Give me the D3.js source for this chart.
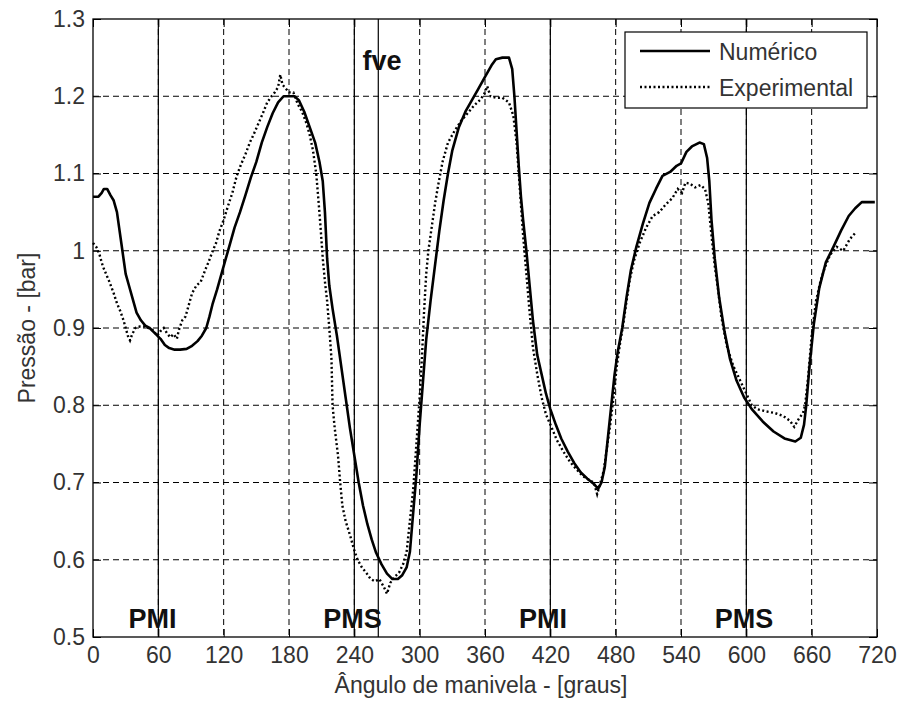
<!DOCTYPE html>
<html>
<head>
<meta charset="utf-8">
<script src="https://cdn.jsdelivr.net/npm/d3@7"></script>
<style>
  body { margin: 0; background: #fff; }
  svg { display: block; font-family: Arial, "Liberation Sans", sans-serif; }
</style>
</head>
<body>
<svg id="chart" width="900" height="704"></svg>
<script>
// crank angle [deg] / pressure [bar]
const numAngle = [0, 5, 8, 10, 13, 16, 19, 22, 24, 26, 28, 30, 33, 36, 40, 44, 48, 52, 57, 62, 66, 70, 75, 80, 86, 91, 96, 100, 104, 107, 110, 114, 118, 122, 126, 130, 135, 140, 145, 150, 155, 160, 165, 170, 175, 180, 185, 189, 194, 199, 204, 208, 211, 213, 215, 217, 220, 224, 228, 232, 236, 240, 244, 248, 252, 256, 260, 265, 270, 275, 280, 284, 288, 291, 294, 297, 300, 303, 306, 310, 314, 318, 322, 326, 330, 336, 342, 348, 354, 360, 366, 370, 376, 382, 385, 387, 389, 391, 393, 395, 398, 401, 404, 408, 412, 416, 420, 425, 430, 436, 442, 448, 454, 460, 464, 467, 470, 473, 476, 479, 482, 486, 490, 494, 499, 505, 511, 517, 523, 530, 536, 540, 545, 550, 557, 561, 564, 566, 568, 571, 575, 580, 585, 591, 598, 605, 615, 625, 635, 645, 650, 653, 655, 658, 662, 667, 673, 680, 687, 694, 700, 706, 712, 718];
const numPressure = [1.07, 1.07, 1.075, 1.08, 1.08, 1.072, 1.065, 1.05, 1.03, 1.01, 0.99, 0.97, 0.955, 0.94, 0.92, 0.91, 0.903, 0.9, 0.893, 0.886, 0.878, 0.874, 0.872, 0.872, 0.873, 0.877, 0.883, 0.89, 0.9, 0.915, 0.932, 0.95, 0.97, 0.99, 1.01, 1.03, 1.05, 1.072, 1.095, 1.115, 1.14, 1.16, 1.178, 1.192, 1.2, 1.2, 1.2, 1.195, 1.18, 1.16, 1.14, 1.115, 1.09, 1.05, 0.99, 0.955, 0.925, 0.89, 0.85, 0.81, 0.77, 0.735, 0.7, 0.67, 0.646, 0.626, 0.609, 0.594, 0.582, 0.575, 0.575, 0.58, 0.59, 0.61, 0.66, 0.71, 0.775, 0.83, 0.885, 0.935, 0.98, 1.025, 1.065, 1.1, 1.13, 1.16, 1.18, 1.195, 1.21, 1.225, 1.24, 1.248, 1.25, 1.25, 1.235, 1.2, 1.155, 1.11, 1.07, 1.04, 1.0, 0.955, 0.91, 0.865, 0.84, 0.815, 0.795, 0.775, 0.757, 0.74, 0.725, 0.713, 0.705, 0.698, 0.692, 0.7, 0.72, 0.76, 0.8, 0.84, 0.87, 0.9, 0.94, 0.975, 1.005, 1.035, 1.062, 1.08, 1.097, 1.102, 1.11, 1.113, 1.128, 1.135, 1.14, 1.138, 1.12, 1.09, 1.04, 0.99, 0.94, 0.895, 0.86, 0.832, 0.81, 0.795, 0.779, 0.766, 0.757, 0.753, 0.758, 0.775, 0.8, 0.85, 0.905, 0.952, 0.985, 1.005, 1.026, 1.045, 1.055, 1.063, 1.063, 1.063];

const expAngle = [0, 3, 6, 9, 12, 15, 19, 22, 25, 28, 30, 32, 34, 36, 39, 43, 47, 51, 55, 59, 62, 65, 68, 71, 74, 77, 79, 82, 85, 88, 91, 95, 99, 103, 106, 110, 113, 116, 120, 124, 128, 132, 136, 140, 144, 148, 152, 156, 160, 164, 167, 170, 172, 174, 177, 180, 184, 188, 192, 196, 199, 202, 205, 207, 209, 211, 213, 215, 217, 219, 220, 222, 225, 227, 229, 232, 236, 240, 243, 247, 251, 255, 259, 263, 267, 270, 273, 277, 281, 285, 288, 291, 294, 296, 298, 300, 302, 304, 306, 308, 311, 314, 317, 321, 326, 332, 338, 344, 350, 356, 360, 362, 365, 370, 376, 382, 386, 389, 391, 393, 395, 398, 401, 404, 408, 412, 416, 420, 426, 432, 438, 444, 450, 456, 460, 463, 466, 469, 472, 475, 478, 481, 484, 487, 490, 493, 497, 502, 508, 514, 520, 526, 532, 537, 541, 544, 548, 553, 558, 562, 565, 568, 571, 574, 577, 582, 588, 594, 600, 605, 610, 618, 626, 634, 640, 644, 648, 652, 654, 657, 660, 664, 668, 672, 677, 683, 689, 695, 700];
const expPressure = [1.01, 1.005, 0.995, 0.98, 0.97, 0.96, 0.945, 0.932, 0.922, 0.91, 0.9, 0.89, 0.884, 0.892, 0.9, 0.902, 0.902, 0.9, 0.897, 0.89, 0.896, 0.9, 0.893, 0.888, 0.892, 0.886, 0.898, 0.91, 0.915, 0.93, 0.945, 0.955, 0.96, 0.975, 0.985, 1.0, 1.01, 1.025, 1.04, 1.058, 1.075, 1.097, 1.112, 1.125, 1.14, 1.152, 1.165, 1.178, 1.192, 1.2, 1.205, 1.212, 1.228, 1.215, 1.21, 1.205, 1.205, 1.19, 1.18, 1.165, 1.15, 1.13, 1.1, 1.066, 1.03, 0.99, 0.96, 0.935, 0.9, 0.86, 0.8, 0.77, 0.735, 0.7, 0.67, 0.65, 0.632, 0.612, 0.6, 0.59, 0.583, 0.575, 0.572, 0.575, 0.565, 0.556, 0.57, 0.578, 0.583, 0.595, 0.61, 0.65, 0.69, 0.73, 0.77, 0.81, 0.86, 0.92, 0.97, 1.0, 1.03, 1.06, 1.085, 1.115, 1.14, 1.155, 1.168, 1.178, 1.188, 1.196, 1.205, 1.213, 1.2, 1.198, 1.198, 1.192, 1.175, 1.14, 1.1, 1.06, 1.02, 0.97, 0.92, 0.875, 0.84, 0.81, 0.788, 0.775, 0.755, 0.74, 0.727, 0.717, 0.708, 0.703, 0.7, 0.685, 0.7, 0.715, 0.745, 0.775, 0.81, 0.85, 0.88, 0.905, 0.935, 0.963, 0.988, 1.01, 1.03, 1.045, 1.05, 1.06, 1.068, 1.08, 1.075, 1.088, 1.087, 1.082, 1.085, 1.08, 1.062, 1.02, 0.98, 0.95, 0.915, 0.877, 0.851, 0.833, 0.815, 0.8, 0.795, 0.792, 0.79, 0.786, 0.78, 0.772, 0.782, 0.79, 0.8, 0.84, 0.89, 0.935, 0.96, 0.978, 0.995, 1.005, 1.0, 1.015, 1.023];

const xTicks = [0, 60, 120, 180, 240, 300, 360, 420, 480, 540, 600, 660, 720];
const yTicks = [0.5, 0.6, 0.7, 0.8, 0.9, 1, 1.1, 1.2, 1.3];
const seriesNames = ['Numérico', 'Experimental'];
const eventAngles = [60, 240, 262, 420, 600];
const eventLabels = ['PMI', 'PMS', 'PMI', 'PMS'];
const eventLabelAngles = [54.6, 238.3, 413.3, 597.9];
const fveLabel = 'fve';
const fveLabelAngle = 265.4;

const width = 900, height = 704;
const margin = { top: 19, right: 23, bottom: 67, left: 93 };
const innerW = width - margin.left - margin.right;
const innerH = height - margin.top - margin.bottom;

const svg = d3.select('#chart');
const g = svg.append('g').attr('transform', `translate(${margin.left},${margin.top})`);

const xScale = d3.scaleLinear().domain([0, 720]).range([0, innerW]);
const yScale = d3.scaleLinear().domain([0.5, 1.3]).range([innerH, 0]);

// dashed grid
g.append('g')
  .selectAll('line')
  .data(xTicks.slice(1, -1))
  .enter()
  .append('line')
  .attr('x1', d => xScale(d)).attr('x2', d => xScale(d))
  .attr('y1', 0).attr('y2', innerH)
  .attr('stroke', '#000').attr('stroke-width', 1).attr('stroke-dasharray', '6,4');
g.append('g')
  .selectAll('line')
  .data(yTicks.slice(1, -1))
  .enter()
  .append('line')
  .attr('x1', 0).attr('x2', innerW)
  .attr('y1', d => yScale(d)).attr('y2', d => yScale(d))
  .attr('stroke', '#000').attr('stroke-width', 1).attr('stroke-dasharray', '6,4');

// PMI / PMS / fve markers
g.append('g')
  .selectAll('line')
  .data(eventAngles)
  .enter()
  .append('line')
  .attr('x1', d => xScale(d)).attr('x2', d => xScale(d))
  .attr('y1', 0).attr('y2', innerH)
  .attr('stroke', '#000').attr('stroke-width', 1.2);

// axes with inward ticks
const fmt = d => String(d);
const styleAxis = sel => {
  sel.select('.domain').remove();
  sel.selectAll('.tick line').attr('stroke', '#000');
  sel.selectAll('.tick text').attr('fill', '#333').style('font-size', '23px')
    .style('font-family', 'Arial, "Liberation Sans", sans-serif');
};
g.append('g').attr('transform', `translate(0,${innerH})`)
  .call(d3.axisBottom(xScale).tickValues(xTicks).tickFormat(fmt).tickSizeInner(-8).tickSizeOuter(0).tickPadding(10))
  .call(styleAxis);
g.append('g')
  .call(d3.axisTop(xScale).tickValues(xTicks).tickFormat('').tickSizeInner(-8).tickSizeOuter(0))
  .call(styleAxis);
g.append('g')
  .call(d3.axisLeft(yScale).tickValues(yTicks).tickFormat(fmt).tickSizeInner(-8).tickSizeOuter(0).tickPadding(8))
  .call(styleAxis);
g.append('g').attr('transform', `translate(${innerW},0)`)
  .call(d3.axisRight(yScale).tickValues(yTicks).tickFormat('').tickSizeInner(-8).tickSizeOuter(0))
  .call(styleAxis);

// curves
const numData = numAngle.map((a, i) => [a, numPressure[i]]);
const expData = expAngle.map((a, i) => [a, expPressure[i]]);
const line = d3.line().x(d => xScale(d[0])).y(d => yScale(d[1]));

g.append('path').datum(expData)
  .attr('d', line).attr('fill', 'none')
  .attr('stroke', '#000').attr('stroke-width', 2.4).attr('stroke-dasharray', '2,2.5');
g.append('path').datum(numData)
  .attr('d', line).attr('fill', 'none')
  .attr('stroke', '#000').attr('stroke-width', 2.6).attr('stroke-linejoin', 'round');

// event labels
g.append('g')
  .selectAll('text')
  .data(eventLabels)
  .enter()
  .append('text')
  .attr('x', (d, i) => xScale(eventLabelAngles[i]))
  .attr('y', innerH - 9)
  .attr('text-anchor', 'middle')
  .style('font-size', '27px').style('font-weight', 'bold')
  .attr('fill', '#111')
  .text(d => d);
g.append('text')
  .attr('x', xScale(fveLabelAngle))
  .attr('y', 51)
  .attr('text-anchor', 'middle')
  .style('font-size', '27px').style('font-weight', 'bold')
  .attr('fill', '#111')
  .text(fveLabel);

// frame
g.append('rect')
  .attr('x', 0).attr('y', 0).attr('width', innerW).attr('height', innerH)
  .attr('fill', 'none').attr('stroke', '#000').attr('stroke-width', 1.3);

// legend
const legend = g.append('g').attr('transform', 'translate(532,13)');
legend.append('rect')
  .attr('width', 242).attr('height', 76)
  .attr('fill', '#fff').attr('stroke', '#000').attr('stroke-width', 1.2);
seriesNames.forEach((name, i) => {
  const yy = 19 + i * 36;
  legend.append('line')
    .attr('x1', 15).attr('x2', 85).attr('y1', yy).attr('y2', yy)
    .attr('stroke', '#000')
    .attr('stroke-width', i === 0 ? 2.6 : 2.4)
    .attr('stroke-dasharray', i === 0 ? null : '2,2.5');
  legend.append('text')
    .attr('x', 94).attr('y', yy + 8.5)
    .attr('fill', '#333')
    .style('font-size', '23px')
    .text(name);
});

// axis titles
svg.append('text')
  .attr('x', 481).attr('y', 693)
  .attr('text-anchor', 'middle')
  .attr('fill', '#333')
  .style('font-size', '23px')
  .text('Ângulo de manivela - [graus]');
svg.append('text')
  .attr('transform', 'translate(35,328) rotate(-90)')
  .attr('text-anchor', 'middle')
  .attr('fill', '#333')
  .style('font-size', '23px')
  .text('Pressão - [bar]');
</script>
</body>
</html>
